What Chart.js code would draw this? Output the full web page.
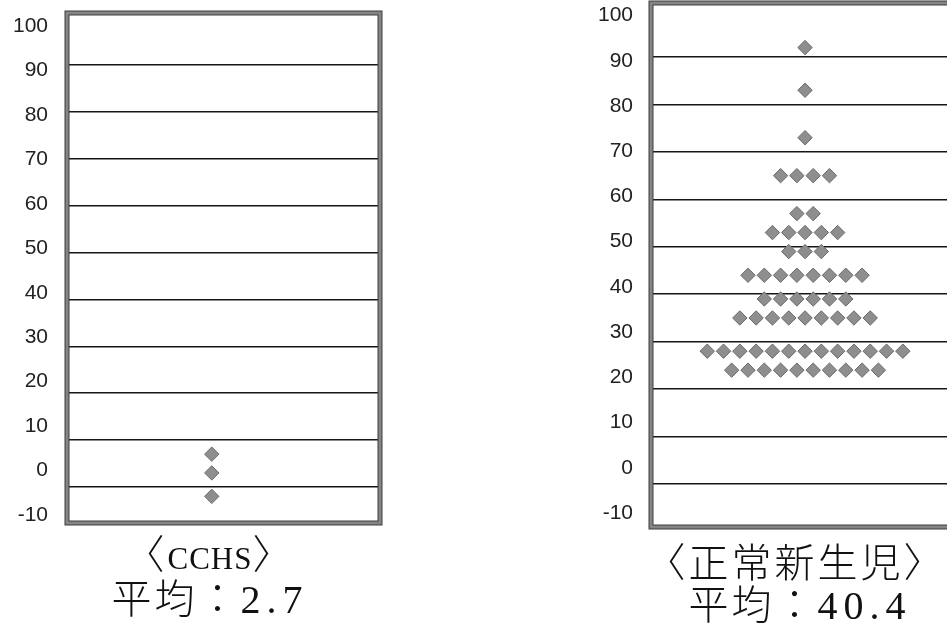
<!DOCTYPE html>
<html><head><meta charset="utf-8">
<script src="https://cdn.jsdelivr.net/npm/chart.js@4/dist/chart.umd.min.js"></script>
<style>
html,body{margin:0;padding:0;background:#fff;overflow:hidden;width:947px;height:638px;position:relative;}
.wrap{position:absolute;}
.cap{position:absolute;text-align:center;color:#111;white-space:nowrap;line-height:40px;height:40px;
 font-family:"Liberation Serif","Noto Sans CJK JP",serif;font-size:40px;font-weight:300;letter-spacing:3px;}
.lat{font-size:31px;font-weight:400;letter-spacing:1px;}
.num{font-weight:400;letter-spacing:6px;}
</style></head><body>
<div class="wrap" style="left:0;top:0;width:420px;height:560px"><canvas id="c1"></canvas></div>
<div class="wrap" style="left:590px;top:-20px;width:420px;height:580px"><canvas id="c2"></canvas></div>
<div class="cap" id="t1" style="left:10px;width:400px;top:536px"></div>
<div class="cap" id="m1" style="left:10px;width:400px;top:580px"></div>
<div class="cap" id="t2" style="left:596px;width:400px;top:544px"></div>
<div class="cap" id="m2" style="left:600px;width:400px;top:586px"></div>
<script>
// ---- data ----
const tickLabels = [-10, 0, 10, 20, 30, 40, 50, 60, 70, 80, 90, 100];
const gridValues = [0, 10, 20, 30, 40, 50, 60, 70, 80, 90];
const cchsValues = [7, 3, -2];
const cchsCounts = [1, 1, 1];
const newbornValues = [92, 83, 73, 65, 57, 53, 49, 44, 39, 35, 28, 24];
const newbornCounts = [1, 1, 1, 4, 2, 5, 3, 8, 6, 9, 13, 10];
const groupNames = ['CCHS', '正常新生児'];
const groupMeans = ['2.7', '40.4'];

document.getElementById('t1').innerHTML = '〈<span class="lat">' + groupNames[0] + '</span>〉';
document.getElementById('m1').innerHTML = '平均：<span class="num">' + groupMeans[0] + '</span>';
document.getElementById('t2').textContent = '〈' + groupNames[1] + '〉';
document.getElementById('m2').innerHTML = '平均：<span class="num">' + groupMeans[1] + '</span>';

// dot-plot layout: points sharing a value are spread side by side
function rowsToPoints(values, counts) {
  const pts = [];
  values.forEach((v, r) => {
    const n = counts[r];
    for (let i = 0; i < n; i++) pts.push({ x: i - (n - 1) / 2, y: v });
  });
  return pts;
}

const framePlugin = {
  id: 'frame',
  beforeDatasetsDraw(chart) {
    const a = chart.chartArea, ctx = chart.ctx;
    ctx.save();
    ctx.strokeStyle = '#858585'; ctx.lineWidth = 4;
    ctx.strokeRect(a.left, a.top, a.right - a.left, a.bottom - a.top);
    ctx.strokeStyle = '#3c3c3c'; ctx.lineWidth = 1;
    ctx.strokeRect(a.left - 2, a.top - 2, a.right - a.left + 4, a.bottom - a.top + 4);
    ctx.strokeRect(a.left + 2, a.top + 2, a.right - a.left - 4, a.bottom - a.top - 4);
    ctx.restore();
  }
};

function noPad(s) { s.paddingTop = 0; s.paddingBottom = 0; s.paddingLeft = 0; s.paddingRight = 0; }

function makePanel(id, pts, g) {
  new Chart(document.getElementById(id), {
    type: 'scatter',
    data: { datasets: [{
      data: pts,
      pointStyle: 'rectRot', pointRadius: 7.2, pointHoverRadius: 7.2,
      backgroundColor: '#8e8e8e', borderColor: '#6a6a6a', borderWidth: 1
    }] },
    options: {
      responsive: true, maintainAspectRatio: false, animation: false,
      layout: { padding: { left: 0, right: g.padRight, top: g.padTop, bottom: g.padBottom } },
      plugins: { legend: { display: false }, tooltip: { enabled: false } },
      scales: {
        x: { type: 'linear', display: false, min: g.xMin, max: g.xMax },
        y: {
          position: 'right', min: g.gridMin, max: g.gridMax,
          afterBuildTicks: s => { s.ticks = gridValues.map(v => ({ value: v })); },
          afterFit: s => { s.width = 0; noPad(s); },
          ticks: { display: false },
          grid: { color: '#151515', lineWidth: 1.6, drawTicks: false },
          border: { display: false }
        },
        yl: {
          position: 'left', min: g.labMin, max: g.labMax,
          afterBuildTicks: s => { s.ticks = tickLabels.map(v => ({ value: v })); },
          afterFit: s => { s.width = g.axisWidth; noPad(s); },
          ticks: { padding: g.tickPad, color: '#222',
                   font: { family: 'Liberation Sans', size: 21 } },
          grid: { display: false, drawTicks: false },
          border: { display: false }
        }
      }
    },
    plugins: [framePlugin]
  });
}

makePanel('c1', rowsToPoints(cchsValues, cchsCounts), {
  padRight: 40, padTop: 13, padBottom: 37, axisWidth: 67, tickPad: 19,
  xMin: -8.88, xMax: 10.32, gridMin: -7.68, gridMax: 101.09, labMin: -11.8, labMax: 102.92
});
makePanel('c2', rowsToPoints(newbornValues, newbornCounts), {
  padRight: 40, padTop: 23, padBottom: 33, axisWidth: 61, tickPad: 18,
  xMin: -9.45, xMax: 10.12, gridMin: -9.06, gridMax: 101.39, labMin: -13.1, labMax: 102.76
});
</script>
</body></html>
